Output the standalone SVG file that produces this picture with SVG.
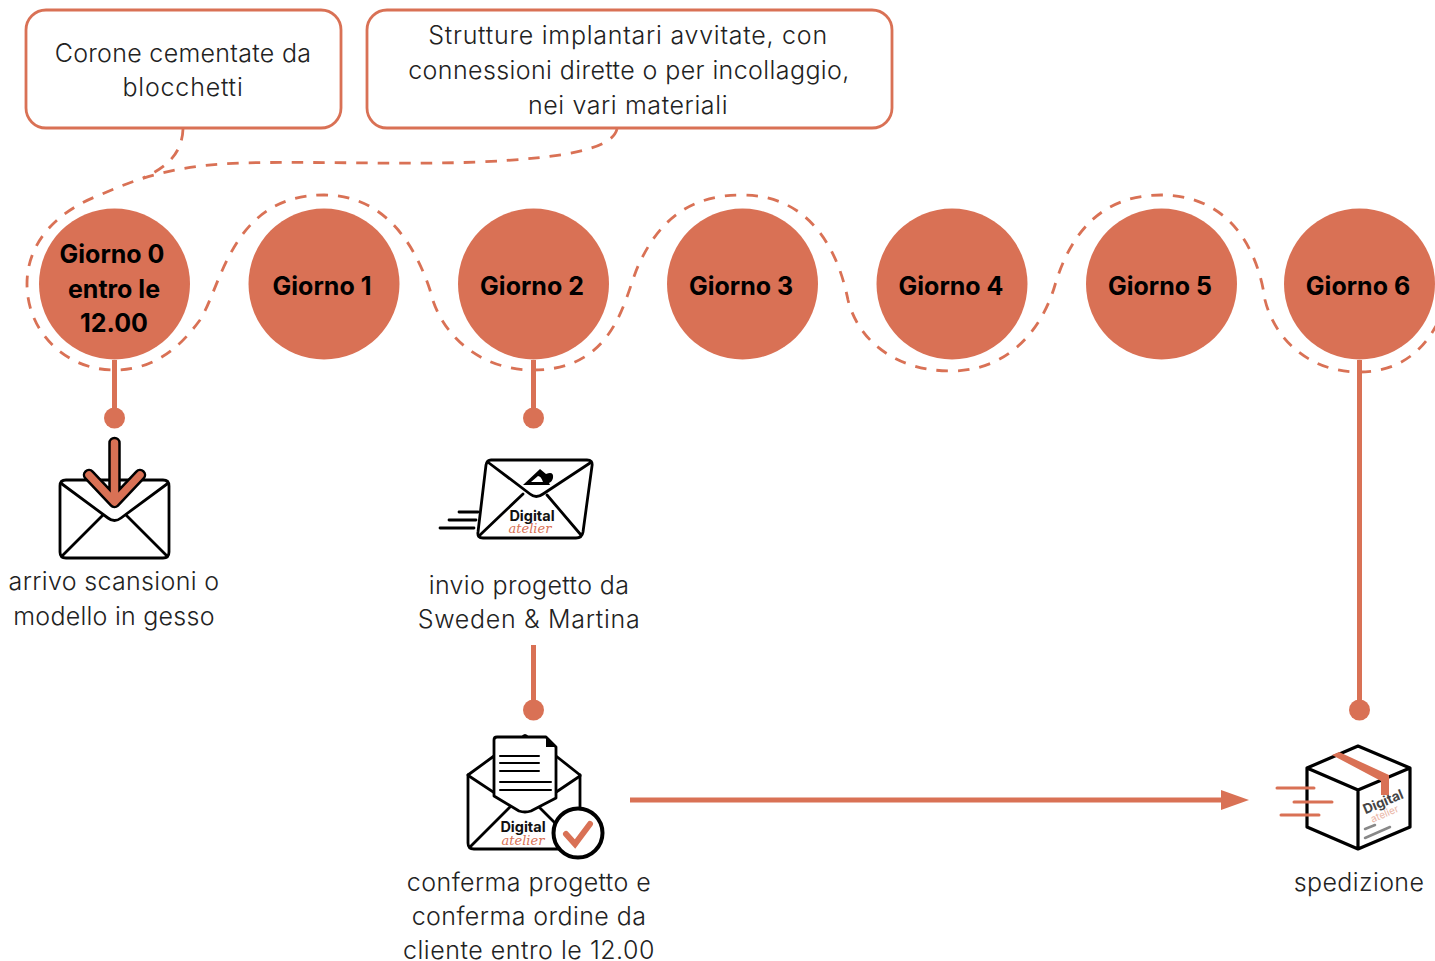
<svg xmlns="http://www.w3.org/2000/svg" width="1435" height="961" viewBox="0 0 1435 961">
<defs>
<style>
.t{font-family:"Inter","Liberation Sans",sans-serif;font-weight:300;font-size:25px;fill:#222;text-anchor:middle}
.d{font-family:"Inter","Liberation Sans",sans-serif;font-weight:700;font-size:25px;fill:#000;text-anchor:middle}
.c{fill:#D97155}
.box{fill:#fff;stroke:#D97155;stroke-width:2.8}
.k{fill:none;stroke:#000;stroke-width:2.8;stroke-linejoin:round;stroke-linecap:round}
.o{fill:none;stroke:#D97155;stroke-linecap:round}
.dash{fill:none;stroke:#D97155;stroke-width:2.8;stroke-dasharray:11.5 10}
.line{fill:none;stroke:#D97155;stroke-width:5}
.lg{font-family:"Inter","Liberation Sans",sans-serif;font-weight:700;font-size:14.5px;fill:#111;text-anchor:middle}
.sc{font-family:"DejaVu Serif",serif;font-style:italic;font-size:13px;fill:#D97155;text-anchor:middle}
</style>
<marker id="ah" markerUnits="userSpaceOnUse" markerWidth="30" markerHeight="22" refX="6" refY="11" orient="auto"><path d="M1 1L29 11L1 21Z" fill="#D97155"/></marker>
</defs>
<g id="connectors">
<path class="dash" d="M617 129C612 150 560 158 480 162C400 165 320 161 240 163C190 165 150 172 100 195C60 210 27 240 27 284C27 332 66 370 114 370C160 370 185 340 200 320C222 285 232 195 324 195C385 195 415 245 430 290C440 335 480 370 533 370C620 370 625 290 640 262C660 220 690 195 742 195C810 195 838 250 848 300C858 340 895 371 951 371C1015 371 1045 320 1055 285C1070 235 1100 195 1161 195C1230 195 1258 250 1265 300C1275 340 1310 372 1359 372C1395 372 1420 355 1436 326"/>
<path class="dash" d="M183 129C182 155 165 168 143 178"/>
<path class="line" d="M114.500 360V418"/>
<circle class="c" cx="114.500" cy="418" r="10.500"/>
<path class="line" d="M533.500 360V418"/>
<circle class="c" cx="533.500" cy="418" r="10.500"/>
<path class="line" d="M533.500 645V710"/>
<circle class="c" cx="533.500" cy="710" r="10.500"/>
<path class="line" d="M1359.500 360V710"/>
<circle class="c" cx="1359.500" cy="710" r="10.500"/>
<path class="line" d="M630 800H1226" marker-end="url(#ah)"/>
</g>
<g id="note-corone">
<rect class="box" x="26" y="10" width="315" height="118" rx="20"/>
<text class="t" x="183" y="62" letter-spacing=".3">Corone cementate da</text>
<text class="t" x="183" y="96" letter-spacing=".8">blocchetti</text>
</g>
<g id="note-strutture">
<rect class="box" x="367" y="10" width="525" height="118" rx="20"/>
<text class="t" x="628" y="44" letter-spacing=".75">Strutture implantari avvitate, con</text>
<text class="t" x="629" y="79" letter-spacing=".4">connessioni dirette o per incollaggio,</text>
<text class="t" x="628" y="114" letter-spacing=".6">nei vari materiali</text>
</g>
<g id="giorno-0"><circle class="c" cx="114.500" cy="284" r="75.500"/>
<text class="d" x="112" y="263">Giorno 0</text><text class="d" x="114" y="298">entro le</text><text class="d" x="114" y="332">12.00</text></g>
<g id="giorno-1"><circle class="c" cx="324" cy="284" r="75.500"/><text class="d" x="322" y="295">Giorno 1</text></g>
<g id="giorno-2"><circle class="c" cx="533.500" cy="284" r="75.500"/><text class="d" x="532" y="295">Giorno 2</text></g>
<g id="giorno-3"><circle class="c" cx="742.500" cy="284" r="75.500"/><text class="d" x="741" y="295">Giorno 3</text></g>
<g id="giorno-4"><circle class="c" cx="952" cy="284" r="75.500"/><text class="d" x="951" y="295">Giorno 4</text></g>
<g id="giorno-5"><circle class="c" cx="1161.500" cy="284" r="75.500"/><text class="d" x="1160" y="295">Giorno 5</text></g>
<g id="giorno-6"><circle class="c" cx="1359.500" cy="284" r="75.500"/><text class="d" x="1358" y="295">Giorno 6</text></g>
<g id="step-arrivo">
<path class="k" d="M66 480H163Q169 480 169 486V552Q169 558 163 558H66Q60 558 60 552V486Q60 480 66 480Z"/>
<path class="k" d="M62 484L108 518Q114.500 523 121 518L167 484"/>
<path class="k" d="M62 556L103 515M167 556L126 515"/>
<path d="M114.500 443V500M89 475L114.500 502L140 475" fill="none" stroke="#000" stroke-width="12.500" stroke-linecap="round" stroke-linejoin="round"/>
<path d="M114.500 443V500M89 475L114.500 502L140 475" fill="none" stroke="#D97155" stroke-width="7.500" stroke-linecap="round" stroke-linejoin="round"/>
<text class="t" x="114" y="590" letter-spacing=".33">arrivo scansioni o</text>
<text class="t" x="114" y="625" letter-spacing=".25">modello in gesso</text>
</g>
<g id="step-invio">
<path class="k" d="M491 460H587Q593 460 592 466L583 532Q582 538 576 538H483Q477 538 478 532L486 465Q487 460 491 460Z"/>
<path class="k" d="M489 463L530 494Q536 499 543 494L590 463"/>
<path class="k" d="M480 535L523 494M581 535L547 495"/>
<path class="k" d="M459 512H478M449 520H476M440 528H474"/>
<path d="M523 485L540 469L546 474Q554 471 553 478Q552 482 549 483L550 485ZM531 482H543Q541 476 538 476Z" fill="#000" fill-rule="evenodd"/>
<text class="lg" x="532" y="521">Digital</text>
<text class="sc" x="530" y="533">atelier</text>
<text class="t" x="529" y="594" letter-spacing=".35">invio progetto da</text>
<text class="t" x="529" y="628" letter-spacing=".7">Sweden &amp; Martina</text>
</g>
<g id="step-conferma">
<path class="k" d="M468 775L494 756M556 756L580 775"/>
<path class="k" d="M474 849H570M468 775V843Q468 849 474 849M580 775V812"/>
<path class="k" d="M469 776L519 809Q525 813 531 809L580 776"/>
<path class="k" d="M470 847L512 805M537 805L558 826"/>
<path d="M521 737Q525 731 529 737Z" fill="#000"/>
<path class="k" d="M497 737H546L556 747V798L531 811Q525 813 519 811L494 796V740Q494 737 497 737Z" style="fill:#fff"/>
<path d="M546 736L557 747L546 747Z" fill="#000"/>
<path class="k" style="stroke-width:2" d="M500 756H539M500 763H539M500 771H539M500 782H551M500 790H551"/>
<text class="lg" x="523" y="832">Digital</text>
<text class="sc" x="523" y="845">atelier</text>
<circle cx="578" cy="833" r="24.500" fill="#fff" stroke="#000" stroke-width="4"/>
<path class="o" stroke-width="6" d="M566 834L575 844L590 824"/>
<text class="t" x="529" y="891" letter-spacing=".42">conferma progetto e</text>
<text class="t" x="529" y="925" letter-spacing=".42">conferma ordine da</text>
<text class="t" x="529" y="959" letter-spacing=".52">cliente entro le 12.00</text>
</g>
<g id="step-spedizione">
<path d="M1358 746L1410 768V827L1358 849L1307 827V768ZM1307 768L1358 790L1410 768M1358 790V849" fill="none" stroke="#000" stroke-width="3.200" stroke-linejoin="round"/>
<path d="M1332 755L1339 752L1389 775V795H1381V781Z" fill="#D97155"/>
<path class="o" stroke-width="3" d="M1277 788H1314M1294 802H1332M1281 815H1319"/>
<text x="1385" y="806" font-family="Inter,sans-serif" font-weight="700" font-size="13.500" fill="#444" text-anchor="middle" transform="rotate(-23 1385 806)">Digital</text>
<text x="1386" y="817" font-family="Inter,sans-serif" font-size="10" fill="#EAB5A5" text-anchor="middle" transform="rotate(-23 1386 817)">atelier</text>
<path d="M1365 829L1375 825M1365 838L1390 827" stroke="#888" stroke-width="2.500" stroke-linecap="round"/>
<text class="t" x="1359" y="891" letter-spacing=".4">spedizione</text>
</g>
</svg>
